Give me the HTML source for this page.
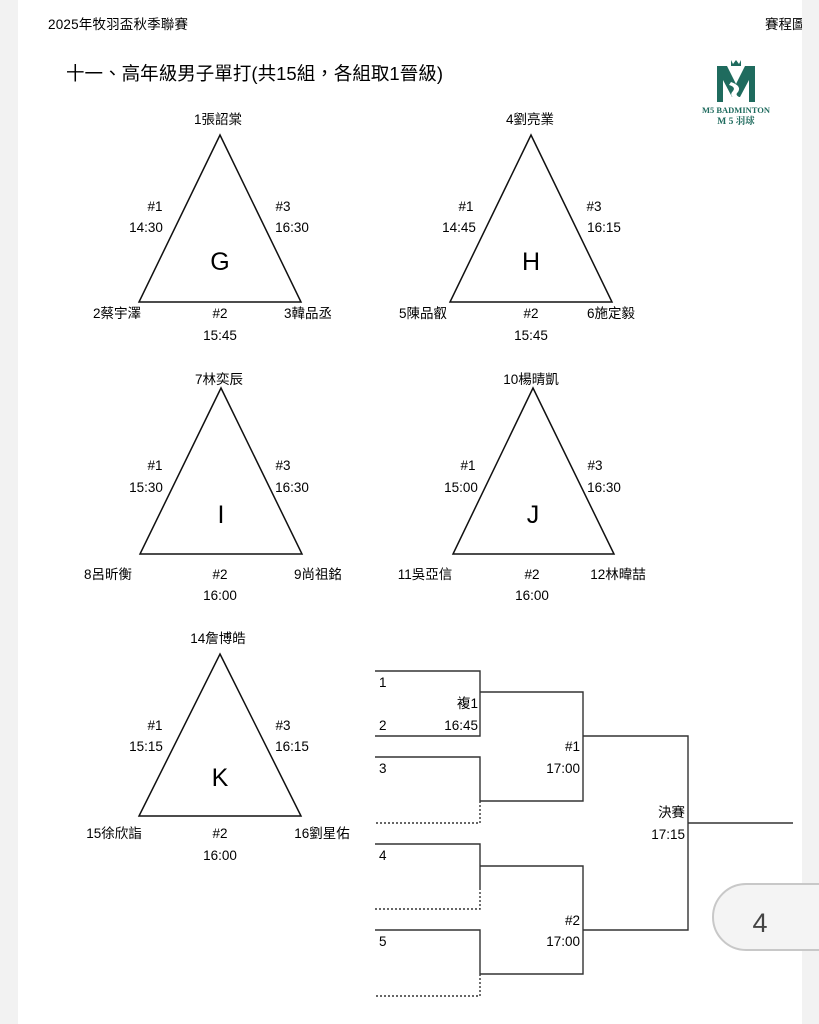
<!DOCTYPE html>
<html><head><meta charset="utf-8"><style>
html,body{margin:0;padding:0;width:819px;height:1024px;overflow:hidden;background:#f2f2f2}
svg{display:block}
text{font-family:"Liberation Sans","Noto Sans CJK TC",sans-serif;fill:#000}
</style></head><body>
<svg width="819" height="1024" viewBox="0 0 819 1024" xmlns="http://www.w3.org/2000/svg">
<rect x="18" y="0" width="784" height="1024" fill="#fff"/>
<text x="48" y="29" font-size="13.5" textLength="140">2025年牧羽盃秋季聯賽</text>
<text x="765" y="29" font-size="13.5">賽程圖</text>
<rect x="802" y="0" width="17" height="1024" fill="#f2f2f2"/>
<text x="66" y="80" font-size="18.5" textLength="377">十一、高年級男子單打(共15組，各組取1晉級)</text>
<!-- logo -->
<g fill="#1f6b5e">
<path d="M717 66 L727 66 L736 84 L745 66 L755 66 L755 102 L749 102 L749 80 L740 97 L732 97 L723 80 L723 102 L717 102Z"/>
<path d="M731 82 Q742 86 738 92 Q733 96 745 99 L741 101 Q727 97 733 91 Q736 87 729 85Z" fill="#fff"/>
<path d="M731 60 l2 4 l3 -4 l3 4 l2 -4 l0 6 l-10 0z"/>
</g>
<text x="736" y="113" font-size="8.5" text-anchor="middle" style="font-family:'Liberation Serif',serif;font-weight:bold;fill:#1f6b5e">M5 BADMINTON</text>
<text x="736" y="124" font-size="9.5" text-anchor="middle" style="font-family:'Liberation Serif','Noto Serif CJK SC',serif;font-weight:bold;fill:#1f6b5e">M 5 羽球</text>

<g fill="none" stroke="#111" stroke-width="1.5">
<path d="M220 135 L301 302 L139 302Z"/>
<path d="M531 135 L612 302 L450 302Z"/>
<path d="M221 388 L302 554 L140 554Z"/>
<path d="M533 388 L614 554 L453 554Z"/>
<path d="M220 654 L301 816 L139 816Z"/>
</g>
<g font-size="13.5" text-anchor="middle">
<!-- G -->
<text x="218" y="124">1張詔棠</text><text x="155" y="211">#1</text><text x="146" y="232">14:30</text>
<text x="283" y="211">#3</text><text x="292" y="232">16:30</text>
<text x="117" y="318">2蔡宇澤</text><text x="220" y="318">#2</text><text x="308" y="318">3韓品丞</text><text x="220" y="340">15:45</text>
<!-- H -->
<text x="530" y="124">4劉亮業</text><text x="466" y="211">#1</text><text x="459" y="232">14:45</text>
<text x="594" y="211">#3</text><text x="604" y="232">16:15</text>
<text x="423" y="318">5陳品叡</text><text x="531" y="318">#2</text><text x="611" y="318">6施定毅</text><text x="531" y="340">15:45</text>
<!-- I -->
<text x="219" y="384">7林奕辰</text><text x="155" y="470">#1</text><text x="146" y="492">15:30</text>
<text x="283" y="470">#3</text><text x="292" y="492">16:30</text>
<text x="108" y="579">8呂昕衡</text><text x="220" y="579">#2</text><text x="318" y="579">9尚祖銘</text><text x="220" y="600">16:00</text>
<!-- J -->
<text x="531" y="384">10楊晴凱</text><text x="468" y="470">#1</text><text x="461" y="492">15:00</text>
<text x="595" y="470">#3</text><text x="604" y="492">16:30</text>
<text x="425" y="579">11吳亞信</text><text x="532" y="579">#2</text><text x="618" y="579">12林暐喆</text><text x="532" y="600">16:00</text>
<!-- K -->
<text x="218" y="643">14詹博皓</text><text x="155" y="730">#1</text><text x="146" y="751">15:15</text>
<text x="283" y="730">#3</text><text x="292" y="751">16:15</text>
<text x="114" y="838">15徐欣詣</text><text x="220" y="838">#2</text><text x="322" y="838">16劉星佑</text><text x="220" y="860">16:00</text>
</g>
<g font-size="25" text-anchor="middle">
<text x="220" y="270">G</text><text x="531" y="270">H</text><text x="221" y="523">I</text><text x="533" y="523">J</text><text x="220" y="786">K</text>
</g>
<!-- bracket -->
<g fill="none" stroke="#333" stroke-width="1.4">
<path d="M375 671 H480 V736 H375"/>
<path d="M480 692 H583 V801 H480"/>
<path d="M375 757 H480 V801"/>
<path d="M583 736 H688 V930 H583"/>
<path d="M688 823 H793"/>
<path d="M375 844 H480 V888"/>
<path d="M480 866 H583 V974 H480"/>
<path d="M375 930 H480 V974"/>
</g>
<g fill="none" stroke="#333" stroke-width="1.4" stroke-dasharray="2,2">
<path d="M480 801 V823 H375"/>
<path d="M480 888 V909 H375"/>
<path d="M480 974 V996 H375"/>
</g>
<g font-size="13.5">
<text x="379" y="687">1</text><text x="379" y="730">2</text><text x="379" y="773">3</text>
<text x="379" y="860">4</text><text x="379" y="946">5</text>
</g>
<g font-size="13.5" text-anchor="end">
<text x="478" y="708">複1</text><text x="478" y="730">16:45</text>
<text x="580" y="751">#1</text><text x="580" y="773">17:00</text>
<text x="685" y="817">決賽</text><text x="685" y="839">17:15</text>
<text x="580" y="925">#2</text><text x="580" y="946">17:00</text>
</g>
<!-- page bubble -->
<path d="M824 884 H746 A33 33 0 0 0 746 950 H824Z" fill="#f4f4f4" stroke="#c8c8c8" stroke-width="2"/>
<text x="760" y="932" font-size="27" text-anchor="middle" style="fill:#444">4</text>
</svg>
</body></html>
